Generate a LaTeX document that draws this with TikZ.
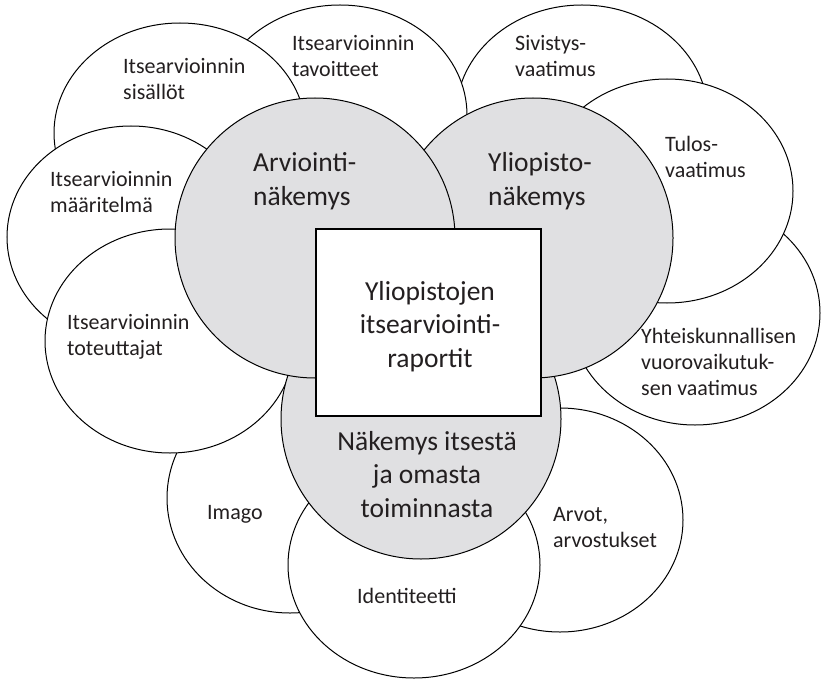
\documentclass[tikz,border=0pt]{standalone}
\usepackage{fontspec}
\setmainfont{Carlito}
\usetikzlibrary{shapes.geometric}
\definecolor{gfill}{RGB}{224,224,226}
\definecolor{txt}{RGB}{35,31,32}
\begin{document}
\begin{tikzpicture}[x=1pt,y=-1pt,
  outer/.style={draw=black, fill=white, ellipse, line width=1pt, inner sep=0pt},
  hub/.style={draw=black, fill=gfill, circle, line width=1pt, inner sep=0pt, minimum size=280pt},
  otxt/.style={font=\fontsize{22}{26}\selectfont, align=left, anchor=base west, inner sep=0pt, text=txt},
  htxt/.style={font=\fontsize{27.5}{33.5}\selectfont, align=left, anchor=base west, inner sep=0pt, text=txt}]
\useasboundingbox (0,0) rectangle (821,679);
% outer ellipses (back to front)
\node[outer, minimum width=252pt, minimum height=220pt] (sivistys) at (582,115) {};
\node[outer, minimum width=254pt, minimum height=220pt] (tavoitteet) at (340,115) {};
\node[outer, minimum width=252pt, minimum height=220pt] (sisallot) at (180,133) {};
\node[outer, minimum width=248pt, minimum height=222pt] (maaritelma) at (131,237) {};
\node[outer, minimum width=246pt, minimum height=230pt] (imago) at (290,498) {};
\node[outer, minimum width=250pt, minimum height=224pt] (toteuttajat) at (170,341) {};
\node[outer, minimum width=246pt, minimum height=224pt] (arvot) at (560,520) {};
\node[outer, minimum width=252pt, minimum height=226pt] (identiteetti) at (414,565) {};
\node[outer, minimum width=250pt, minimum height=224pt] (yhteisk) at (695,313) {};
\node[outer, minimum width=252pt, minimum height=224pt] (tulos) at (667,191) {};
% hub circles
\node[hub] (nakemys) at (421,419) {};
\node[hub] (yliopisto) at (533,238) {};
\node[hub] (arviointi) at (315,238) {};
% central square
\node[draw=black, fill=white, line width=1.8pt, minimum width=225pt, minimum height=187pt, inner sep=0pt] (raportit) at (428.5,322.5) {};
% texts (anchor = baseline of last line)
\node[otxt] (t-tav) at (292,77) {Itsearvioinnin\\tavoitteet};
\node[otxt] (t-sis) at (123,100) {Itsearvioinnin\\sisällöt};
\node[otxt] (t-maa) at (50,212) {Itsearvioinnin\\määritelmä};
\node[otxt] (t-tot) at (67,355) {Itsearvioinnin\\toteuttajat};
\node[otxt] (t-ima) at (207,519) {Imago};
\node[otxt] (t-ide) at (357,603) {Identiteetti};
\node[otxt] (t-arv) at (553,547) {Arvot,\\arvostukset};
\node[otxt] (t-yht) at (641,395) {Yhteiskunnallisen\\vuorovaikutuk-\\sen vaatimus};
\node[otxt] (t-tul) at (665,178) {Tulos-\\vaatimus};
\node[otxt] (t-siv) at (515,77) {Sivistys-\\vaatimus};
\node[htxt] (t-arvn) at (253,205) {Arviointi-\\näkemys};
\node[htxt] (t-ylin) at (488,205) {Yliopisto-\\näkemys};
\node[htxt, align=center, anchor=base] (t-rap) at (430,367) {Yliopistojen\\itsearviointi-\\raportit};
\node[htxt, align=center, anchor=base] (t-nak) at (427,517) {Näkemys itsestä\\ja omasta\\toiminnasta};
\end{tikzpicture}
\end{document}
